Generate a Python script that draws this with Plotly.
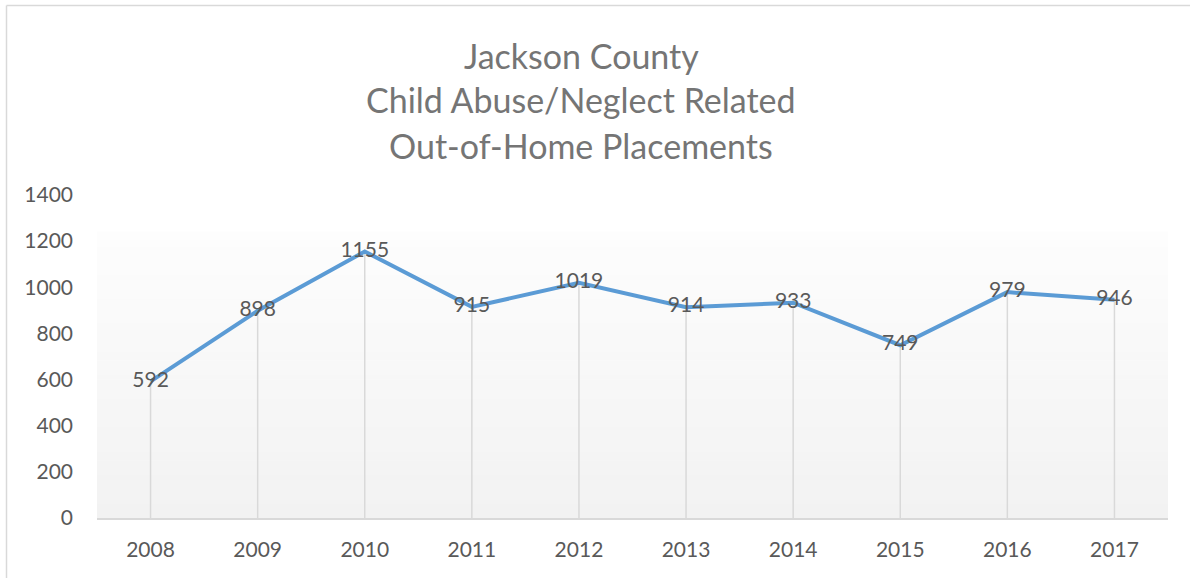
import plotly.graph_objects as go

years = ["2008", "2009", "2010", "2011", "2012", "2013", "2014", "2015", "2016", "2017"]
placements = [592, 898, 1155, 915, 1019, 914, 933, 749, 979, 946]
y_ticks = [0, 200, 400, 600, 800, 1000, 1200, 1400]
title_lines = ["Jackson County", "Child Abuse/Neglect Related", "Out-of-Home Placements"]

W, H = 1190, 578
L, R, T, B = 97, 22, 195, 60
FONT = "Lato"
GRAY = "#595959"

fig = go.Figure()

# drop lines from each point to the axis
dx, dy = [], []
for yr, v in zip(years, placements):
    dx += [yr, yr, None]
    dy += [0, v, None]
fig.add_trace(go.Scatter(x=dx, y=dy, mode="lines",
                         line=dict(color="#d9d9d9", width=1.5),
                         hoverinfo="skip", showlegend=False))

fig.add_trace(go.Scatter(x=years, y=placements, mode="lines+text",
                         text=[str(v) for v in placements],
                         textposition="middle center",
                         textfont=dict(family=FONT, size=21, color=GRAY),
                         line=dict(color="#5b9bd5", width=4),
                         showlegend=False))

shapes = []
# gradient plot-area background
n = 60
top = 0.885
for i in range(n):
    y0 = top * i / n
    y1 = top * (i + 1) / n
    frac = i / (n - 1)
    c = int(round(242 + (253 - 242) * frac))
    shapes.append(dict(type="rect", xref="x domain", yref="y domain",
                       x0=0, x1=1, y0=y0, y1=y1 + 0.002,
                       fillcolor=f"rgb({c},{c},{c})", line=dict(width=0),
                       layer="below"))
# chart border (left and top)
pw = W - L - R
ph = H - T - B
bx = (6.5 - L) / pw
by = (H - B - 5.5) / ph
shapes.append(dict(type="line", xref="paper", yref="paper",
                   x0=bx, x1=bx, y0=by, y1=-1, line=dict(color="#d9d9d9", width=1.5)))
shapes.append(dict(type="line", xref="paper", yref="paper",
                   x0=bx, x1=2, y0=by, y1=by, line=dict(color="#d9d9d9", width=1.5)))

annotations = []
title_y_px = [55, 100, 145]
for line, ypx in zip(title_lines, title_y_px):
    annotations.append(dict(text=line, xref="paper", yref="paper",
                            x=(581 - L) / pw, y=(H - B - ypx) / ph,
                            xanchor="center", yanchor="middle", showarrow=False,
                            font=dict(family=FONT, size=34, color="#757575")))

fig.update_layout(
    width=W, height=H,
    margin=dict(l=L, r=R, t=T, b=B),
    paper_bgcolor="white", plot_bgcolor="white",
    shapes=shapes, annotations=annotations,
    xaxis=dict(type="category", range=[-0.5, 9.5], showgrid=False,
               showline=True, linecolor="#d9d9d9", linewidth=1.5,
               ticks="", tickfont=dict(family=FONT, size=21, color=GRAY),
               ticklabelstandoff=12, zeroline=False, fixedrange=True),
    yaxis=dict(range=[0, 1400], tickvals=y_ticks, showgrid=False,
               showline=False, zeroline=False, ticks="",
               tickfont=dict(family=FONT, size=21, color=GRAY),
               ticklabelstandoff=23, fixedrange=True),
)

fig.write_html("out.html", config={"displayModeBar": False},
               post_script="document.body.style.margin='0px';document.body.style.overflow='hidden';")
